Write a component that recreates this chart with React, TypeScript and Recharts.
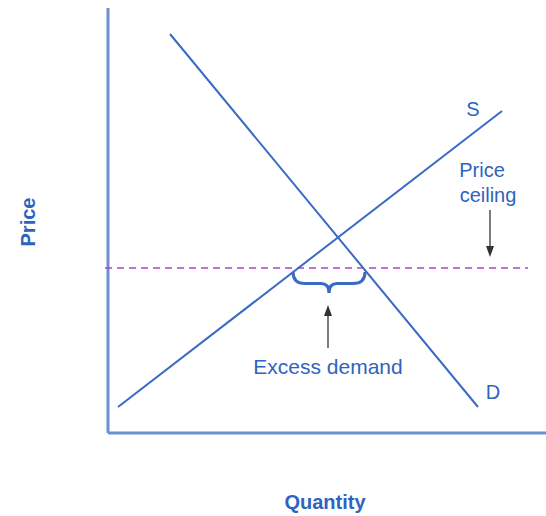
import React from "react";
import { LineChart, Line, XAxis, YAxis, ReferenceLine, ReferenceDot, ReferenceArea } from "recharts";

// coordinates are in plot units (origin at the axes corner)
const demand = [
  { q: 62, p: 399 },
  { q: 370, p: 26 },
];
const supply = [
  { q: 10, p: 26 },
  { q: 394, p: 322 },
];
const ceilingPrice = 165;
const ceilingRange = [-3, 420];
const excessRange = [185, 257];
const braceDepth = [140, 161];

const labels = [
  { text: "S", q: 365, p: 324, size: 20 },
  { text: "D", q: 385, p: 41, size: 20 },
  { text: "Price", q: 374, p: 263, size: 20 },
  { text: "ceiling", q: 380, p: 238, size: 20 },
  { text: "Excess demand", q: 220, p: 66, size: 21 },
];

const arrows = [
  { q: 382, from: 223, to: 176 },
  { q: 220, from: 85, to: 128 },
];

const BLUE = "#3a6ac4";
const TEXT = "#2f63c0";
const AXIS = "#6d90cf";
const FONT = "'Liberation Sans', Arial, sans-serif";

const Arrow = (props: any) => {
  const { x1, y1, x2, y2 } = props;
  const dir = y2 > y1 ? 1 : -1;
  return (
    <g>
      <line x1={x1} y1={y1} x2={x2} y2={y2 - dir * 8} stroke="#444" strokeWidth={1.4} />
      <polygon points={`${x2},${y2} ${x2 - 4},${y2 - dir * 11} ${x2 + 4},${y2 - dir * 11}`} fill="#333" />
    </g>
  );
};

const Brace = (props: any) => {
  const { x, y, width, height } = props;
  const l = x, r = x + width, t = y, b = y + height, m = x + width / 2;
  const mid = t + height * 0.55;
  const d = `M${l},${t} Q${l},${mid} ${l + 12},${mid} L${m - 8},${mid} Q${m},${mid} ${m},${b}` +
    ` Q${m},${mid} ${m + 8},${mid} L${r - 12},${mid} Q${r},${mid} ${r},${t}`;
  return <path d={d} fill="none" stroke={BLUE} strokeWidth={3} />;
};

export default function App() {
  return (
    <div style={{ position: "absolute", left: 0, top: 0, width: 546, height: 516, background: "#fff" }}>
      <LineChart width={546} height={516} margin={{ top: 8, right: 0, bottom: 83, left: 108 }}>
        <XAxis type="number" dataKey="q" domain={[0, 438]} hide allowDataOverflow />
        <YAxis type="number" dataKey="p" domain={[0, 425]} hide allowDataOverflow />
        <ReferenceLine segment={[{ x: 0, y: 0 }, { x: 0, y: 425 }]} stroke={AXIS} strokeWidth={3} ifOverflow="visible" />
        <ReferenceLine segment={[{ x: 0, y: 0 }, { x: 438, y: 0 }]} stroke={AXIS} strokeWidth={3} ifOverflow="visible" />
        <ReferenceLine
          segment={[{ x: ceilingRange[0], y: ceilingPrice }, { x: ceilingRange[1], y: ceilingPrice }]}
          stroke="#b040d4"
          strokeWidth={1.5}
          strokeDasharray="7 5"
          ifOverflow="visible"
        />
        <Line data={demand} dataKey="p" stroke={BLUE} strokeWidth={2} dot={false} isAnimationActive={false} />
        <Line data={supply} dataKey="p" stroke={BLUE} strokeWidth={2} dot={false} isAnimationActive={false} />
        <ReferenceArea
          x1={excessRange[0]}
          x2={excessRange[1]}
          y1={braceDepth[0]}
          y2={braceDepth[1]}
          shape={<Brace />}
          ifOverflow="visible"
        />
        {arrows.map((a, i) => (
          <ReferenceLine key={i} segment={[{ x: a.q, y: a.from }, { x: a.q, y: a.to }]} shape={<Arrow />} ifOverflow="visible" />
        ))}
        {labels.map((l) => (
          <ReferenceDot
            key={l.text}
            x={l.q}
            y={l.p}
            r={0}
            stroke="none"
            ifOverflow="visible"
            label={{ value: l.text, position: "center", fill: TEXT, fontSize: l.size, fontFamily: FONT }}
          />
        ))}
        <ReferenceDot
          x={-80}
          y={211}
          r={0}
          stroke="none"
          ifOverflow="visible"
          label={{ value: "Price", position: "center", angle: -90, fill: TEXT, fontSize: 20, fontWeight: "bold", fontFamily: FONT }}
        />
        <ReferenceDot
          x={217}
          y={-69}
          r={0}
          stroke="none"
          ifOverflow="visible"
          label={{ value: "Quantity", position: "center", fill: TEXT, fontSize: 20, fontWeight: "bold", fontFamily: FONT }}
        />
      </LineChart>
    </div>
  );
}
